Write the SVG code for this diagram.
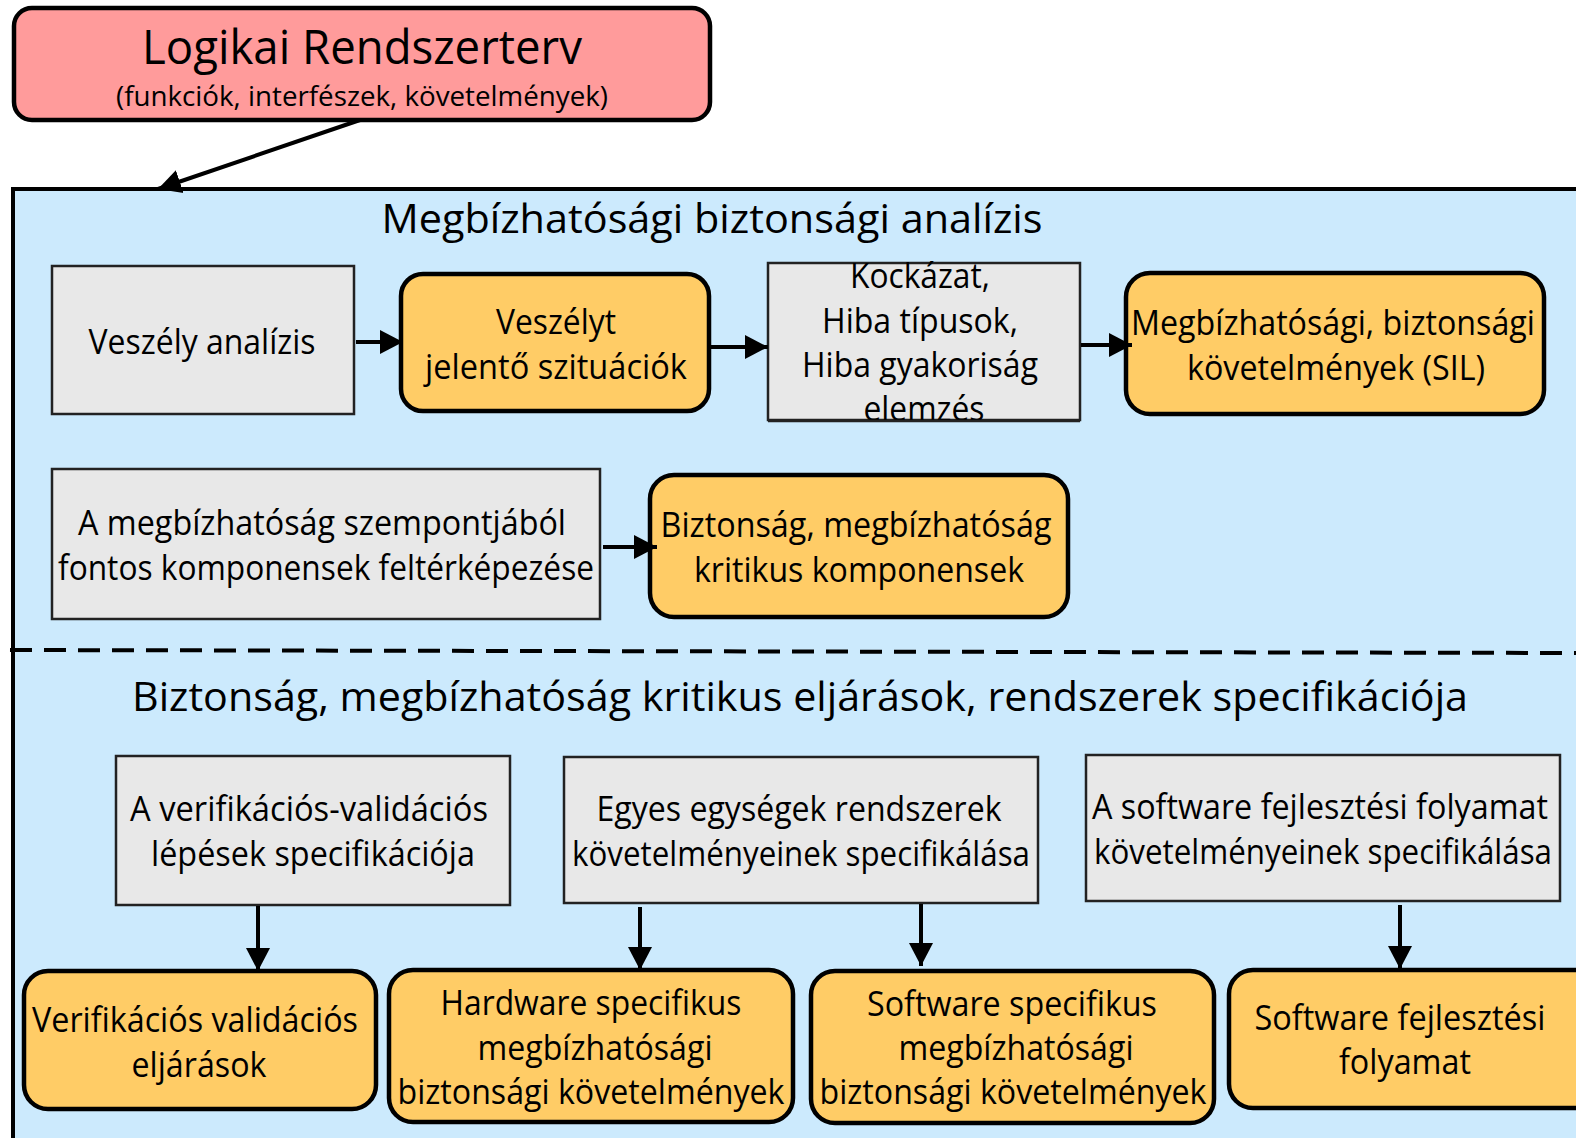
<svg xmlns="http://www.w3.org/2000/svg" width="1576" height="1138" viewBox="0 0 1576 1138">
  <style>
    .txt { font-family: "Open Sans", "Noto Sans", "Liberation Sans", sans-serif; fill: #000; text-anchor: middle; }
    .box { font-size: 34px; }
    .title { font-size: 41px; }
    .gray { fill: #E8E8E8; stroke: #222; stroke-width: 2.5; }
    .orange { fill: #FFCC66; stroke: #000; stroke-width: 4.5; }
    .conn { stroke: #000; stroke-width: 4; fill: none; }
  </style>
  <defs>
    <marker id="arrow" markerUnits="userSpaceOnUse" markerWidth="26" markerHeight="26" viewBox="0 0 26 26" refX="23" refY="13" orient="auto">
      <path d="M0,1 L23,13 L0,25 Z" fill="#000"/>
    </marker>
  </defs>

  <!-- logical system plan -->
  <g id="logikai-rendszerterv">
    <rect x="14" y="8" width="696" height="112" rx="18" fill="#FF9B9B" stroke="#000" stroke-width="4.5"/>
    <text class="txt" x="362" y="64" font-size="47" textLength="440" lengthAdjust="spacingAndGlyphs">Logikai Rendszerterv</text>
    <text class="txt" x="362" y="106" font-size="27" textLength="492" lengthAdjust="spacingAndGlyphs">(funkciók, interfészek, követelmények)</text>
  </g>

  <!-- analysis container -->
  <g id="container">
    <rect x="13" y="189" width="1600" height="1000" fill="#CCEAFD" stroke="#000" stroke-width="4"/>
    <line x1="10" y1="650" x2="1576" y2="653" stroke="#000" stroke-width="4" stroke-dasharray="22 12"/>
    <text class="txt title" x="712" y="233" textLength="661" lengthAdjust="spacingAndGlyphs">Megbízhatósági biztonsági analízis</text>
    <text class="txt title" x="800" y="711" textLength="1336" lengthAdjust="spacingAndGlyphs">Biztonság, megbízhatóság kritikus eljárások, rendszerek specifikációja</text>
  </g>

  <g id="veszely-analizis">
    <rect class="gray" x="52" y="266" width="302" height="148"/>
    <text class="txt box" x="202" y="354" textLength="227" lengthAdjust="spacingAndGlyphs">Veszély analízis</text>
  </g>

  <g id="veszelyt-jelento">
    <rect class="orange" x="401" y="274" width="308" height="137" rx="22"/>
    <text class="txt box" x="556" y="334" textLength="120" lengthAdjust="spacingAndGlyphs">Veszélyt</text>
    <text class="txt box" x="556" y="379" textLength="262" lengthAdjust="spacingAndGlyphs">jelentő szituációk</text>
  </g>

  <g id="kockazat">
    <rect class="gray" x="768" y="263" width="312" height="157"/>
    <text class="txt box" x="920" y="288" textLength="140" lengthAdjust="spacingAndGlyphs">Kockázat,</text>
    <text class="txt box" x="920" y="333" textLength="196" lengthAdjust="spacingAndGlyphs">Hiba típusok,</text>
    <text class="txt box" x="920" y="377" textLength="236" lengthAdjust="spacingAndGlyphs">Hiba gyakoriság</text>
    <text class="txt box" x="924" y="421" textLength="121" lengthAdjust="spacingAndGlyphs">elemzés</text>
    <line x1="768" y1="421" x2="1080" y2="421" stroke="#222" stroke-width="2.5"/>
  </g>

  <g id="sil-kovetelmenyek">
    <rect class="orange" x="1126" y="273" width="418" height="141" rx="24"/>
    <text class="txt box" x="1333" y="335" textLength="404" lengthAdjust="spacingAndGlyphs">Megbízhatósági, biztonsági</text>
    <text class="txt box" x="1336" y="380" textLength="298" lengthAdjust="spacingAndGlyphs">követelmények (SIL)</text>
  </g>

  <g id="komponensek-felterkepezese">
    <rect class="gray" x="52" y="469" width="548" height="150"/>
    <text class="txt box" x="322" y="535" textLength="488" lengthAdjust="spacingAndGlyphs">A megbízhatóság szempontjából</text>
    <text class="txt box" x="326" y="580" textLength="536" lengthAdjust="spacingAndGlyphs">fontos komponensek feltérképezése</text>
  </g>

  <g id="kritikus-komponensek">
    <rect class="orange" x="650" y="475" width="418" height="142" rx="24"/>
    <text class="txt box" x="856" y="537" textLength="391" lengthAdjust="spacingAndGlyphs">Biztonság, megbízhatóság</text>
    <text class="txt box" x="859" y="582" textLength="330" lengthAdjust="spacingAndGlyphs">kritikus komponensek</text>
  </g>

  <g id="vv-lepesek">
    <rect class="gray" x="116" y="756" width="394" height="149"/>
    <text class="txt box" x="309" y="821" textLength="358" lengthAdjust="spacingAndGlyphs">A verifikációs-validációs</text>
    <text class="txt box" x="313" y="866" textLength="324" lengthAdjust="spacingAndGlyphs">lépések specifikációja</text>
  </g>

  <g id="egysegek-kovetelmenyei">
    <rect class="gray" x="564" y="757" width="474" height="146"/>
    <text class="txt box" x="799" y="821" textLength="405" lengthAdjust="spacingAndGlyphs">Egyes egységek rendszerek</text>
    <text class="txt box" x="801" y="866" textLength="458" lengthAdjust="spacingAndGlyphs">követelményeinek specifikálása</text>
  </g>

  <g id="software-folyamat-kovetelmenyei">
    <rect class="gray" x="1086" y="755" width="474" height="146"/>
    <text class="txt box" x="1320" y="819" textLength="456" lengthAdjust="spacingAndGlyphs">A software fejlesztési folyamat</text>
    <text class="txt box" x="1323" y="864" textLength="458" lengthAdjust="spacingAndGlyphs">követelményeinek specifikálása</text>
  </g>

  <g id="vv-eljarasok">
    <rect class="orange" x="24" y="971" width="352" height="138" rx="24"/>
    <text class="txt box" x="195" y="1032" textLength="326" lengthAdjust="spacingAndGlyphs">Verifikációs validációs</text>
    <text class="txt box" x="199" y="1077" textLength="135" lengthAdjust="spacingAndGlyphs">eljárások</text>
  </g>

  <g id="hardware-kovetelmenyek">
    <rect class="orange" x="389" y="970" width="404" height="152" rx="24"/>
    <text class="txt box" x="591" y="1015" textLength="301" lengthAdjust="spacingAndGlyphs">Hardware specifikus</text>
    <text class="txt box" x="595" y="1060" textLength="235" lengthAdjust="spacingAndGlyphs">megbízhatósági</text>
    <text class="txt box" x="591" y="1104" textLength="387" lengthAdjust="spacingAndGlyphs">biztonsági követelmények</text>
  </g>

  <g id="software-kovetelmenyek">
    <rect class="orange" x="811" y="971" width="403" height="152" rx="24"/>
    <text class="txt box" x="1012" y="1016" textLength="290" lengthAdjust="spacingAndGlyphs">Software specifikus</text>
    <text class="txt box" x="1016" y="1060" textLength="235" lengthAdjust="spacingAndGlyphs">megbízhatósági</text>
    <text class="txt box" x="1013" y="1104" textLength="387" lengthAdjust="spacingAndGlyphs">biztonsági követelmények</text>
  </g>

  <g id="software-fejlesztesi-folyamat">
    <rect class="orange" x="1229" y="970" width="380" height="138" rx="24"/>
    <text class="txt box" x="1400" y="1030" textLength="291" lengthAdjust="spacingAndGlyphs">Software fejlesztési</text>
    <text class="txt box" x="1405" y="1074" textLength="132" lengthAdjust="spacingAndGlyphs">folyamat</text>
  </g>

  <!-- connectors -->
  <g id="connectors">
    <line class="conn" x1="360" y1="120" x2="158" y2="189" marker-end="url(#arrow)"/>
    <line class="conn" x1="356" y1="342" x2="403" y2="342" marker-end="url(#arrow)"/>
    <line class="conn" x1="711" y1="347" x2="768" y2="347" marker-end="url(#arrow)"/>
    <line class="conn" x1="1081" y1="345" x2="1132" y2="345" marker-end="url(#arrow)"/>
    <line class="conn" x1="603" y1="547" x2="657" y2="547" marker-end="url(#arrow)"/>
    <line class="conn" x1="258" y1="906" x2="258" y2="971" marker-end="url(#arrow)"/>
    <line class="conn" x1="640" y1="907" x2="640" y2="970" marker-end="url(#arrow)"/>
    <line class="conn" x1="921" y1="904" x2="921" y2="966" marker-end="url(#arrow)"/>
    <line class="conn" x1="1400" y1="905" x2="1400" y2="969" marker-end="url(#arrow)"/>
  </g>
</svg>
